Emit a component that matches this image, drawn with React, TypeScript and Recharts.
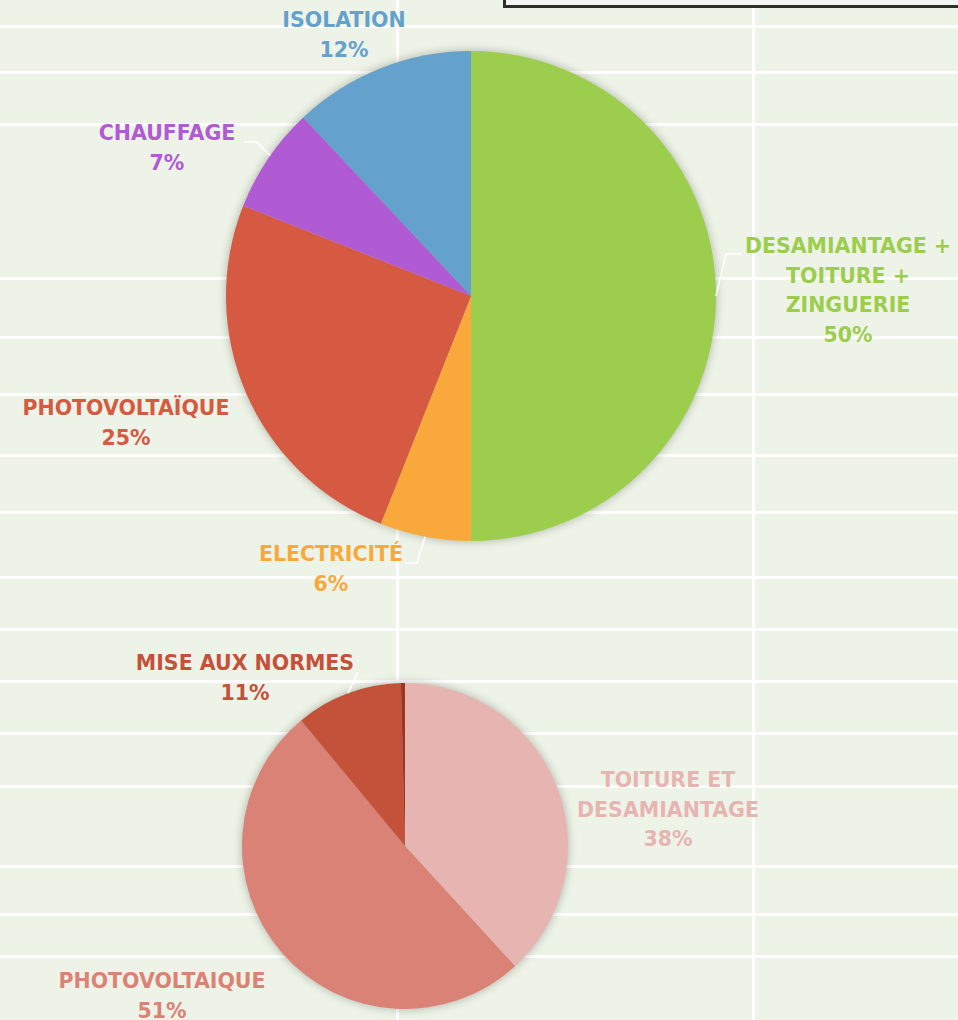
import { PieChart, Pie, Cell } from 'recharts'

// Répartition des travaux (camembert du haut)
const topCategories = ['DESAMIANTAGE + TOITURE + ZINGUERIE', 'ELECTRICITÉ', 'PHOTOVOLTAÏQUE', 'CHAUFFAGE', 'ISOLATION']
const topValues = [50, 6, 25, 7, 12]
const topLabelLines = [['DESAMIANTAGE +', 'TOITURE +', 'ZINGUERIE'], ['ELECTRICITÉ'], ['PHOTOVOLTAÏQUE'], ['CHAUFFAGE'], ['ISOLATION']]
const topColors = ['#9ccd4c', '#f9a93b', '#d55a41', '#b05ad3', '#64a1cc']

// Camembert du bas
const bottomCategories = ['TOITURE ET DESAMIANTAGE', 'PHOTOVOLTAIQUE', 'MISE AUX NORMES', 'AUTRE']
const bottomValues = [38.2, 50.8, 10.6, 0.4]
const bottomLabelLines = [['TOITURE ET', 'DESAMIANTAGE'], ['PHOTOVOLTAIQUE'], ['MISE AUX NORMES'], []]
const bottomColors = ['#e7b5b1', '#db8276', '#c4523a', '#9c3526']

const topData = topCategories.map((name, i) => ({ name, value: topValues[i] }))
const bottomData = bottomCategories.map((name, i) => ({ name, value: bottomValues[i] }))

// fond type feuille Excel
const rowLines = [26, 72, 124, 278, 337, 394, 455, 512, 577, 629, 681, 733, 786, 866, 914, 956]
const colLines = [397, 753]

const RAD = Math.PI / 180
const LINE_H = 29.5

type Offset = { dx: number; dy: number }
type Leader = { angle?: number; pts: [number, number][] } | null

const topOffsets: Offset[] = [
  { dx: 377, dy: -50 },
  { dx: -140, dy: 258 },
  { dx: -345, dy: 112 },
  { dx: -304, dy: -163 },
  { dx: -127, dy: -276 },
]
const topLeaders: Leader[] = [
  { pts: [[255, -42], [271, -42]] },
  { pts: [[-54, 267], [-66, 267]] },
  null,
  { angle: 145, pts: [[-214, -154], [-227, -154]] },
  null,
]
const bottomOffsets: Offset[] = [
  { dx: 263, dy: -66 },
  { dx: -243, dy: 135 },
  { dx: -160, dy: -183 },
  { dx: 0, dy: 0 },
]
const bottomLeaders: Leader[] = [null, null, { pts: [[-47, -174]] }, null]

function makeLabel(lines: string[][], colors: string[], offsets: Offset[], leaders: Leader[]) {
  return (props: any) => {
    const { cx, cy, midAngle, outerRadius, index, percent } = props
    const words = lines[index]
    if (!words || words.length === 0) return null
    const x = cx + offsets[index].dx
    const y = cy + offsets[index].dy
    const all = [...words, `${Math.round(percent * 100)}%`]
    const leader = leaders[index]
    let poly = null
    if (leader) {
      const a = leader.angle ?? midAngle
      const sx = cx + outerRadius * Math.cos(-a * RAD)
      const sy = cy + outerRadius * Math.sin(-a * RAD)
      const pts = [[sx, sy], ...leader.pts.map(([px, py]) => [cx + px, cy + py])]
      poly = <polyline points={pts.map((p) => p.join(',')).join(' ')} fill="none" stroke="#ffffff" strokeWidth={1.5} />
    }
    return (
      <g key={`lbl-${index}`}>
        {poly}
        <text
          x={x}
          y={y}
          textAnchor="middle"
          dominantBaseline="central"
          fill={colors[index]}
          style={{ fontFamily: '"DejaVu Sans", sans-serif', fontWeight: 700, fontSize: 20.5 }}
        >
          {all.map((w, i) => (
            <tspan key={i} x={x} dy={i === 0 ? 0 : LINE_H}>
              {w}
            </tspan>
          ))}
        </text>
      </g>
    )
  }
}

export default function App() {
  return (
    <div style={{ position: 'absolute', left: 0, top: 0, width: 958, height: 1020, overflow: 'hidden', background: '#eef3e7' }}>
      <style>{`.recharts-pie:not(:has(text)) { filter: drop-shadow(0 0 5px rgba(0,0,0,0.28)); }`}</style>
      {rowLines.map((y) => (
        <div key={`r${y}`} style={{ position: 'absolute', left: 0, top: y - 1.5, width: 958, height: 3, background: '#ffffff' }} />
      ))}
      {colLines.map((x) => (
        <div key={`c${x}`} style={{ position: 'absolute', left: x - 1.5, top: 0, width: 3, height: 1020, background: '#ffffff' }} />
      ))}
      <div
        style={{
          position: 'absolute',
          left: 503,
          top: -10,
          width: 470,
          height: 12,
          border: '3px solid #2e2f2a',
          background: '#f4f4f2',
        }}
      />
      <div style={{ position: 'absolute', left: 0, top: 0 }}>
        <PieChart width={958} height={1020} margin={{ top: 0, right: 0, bottom: 0, left: 0 }}>
          <Pie
            data={topData}
            dataKey="value"
            nameKey="name"
            cx={471}
            cy={296}
            outerRadius={245}
            startAngle={90}
            endAngle={-270}
            stroke="none"
            isAnimationActive={false}
          >
            {topData.map((d, i) => (
              <Cell key={d.name} fill={topColors[i]} />
            ))}
          </Pie>
          <Pie
            data={topData}
            dataKey="value"
            nameKey="name"
            cx={471}
            cy={296}
            outerRadius={245}
            startAngle={90}
            endAngle={-270}
            fill="none"
            stroke="none"
            labelLine={false}
            label={makeLabel(topLabelLines, topColors, topOffsets, topLeaders)}
            isAnimationActive={false}
          />
          <Pie
            data={bottomData}
            dataKey="value"
            nameKey="name"
            cx={405}
            cy={846}
            outerRadius={163}
            startAngle={90}
            endAngle={-270}
            stroke="none"
            isAnimationActive={false}
          >
            {bottomData.map((d, i) => (
              <Cell key={d.name} fill={bottomColors[i]} />
            ))}
          </Pie>
          <Pie
            data={bottomData}
            dataKey="value"
            nameKey="name"
            cx={405}
            cy={846}
            outerRadius={163}
            startAngle={90}
            endAngle={-270}
            fill="none"
            stroke="none"
            labelLine={false}
            label={makeLabel(bottomLabelLines, bottomColors, bottomOffsets, bottomLeaders)}
            isAnimationActive={false}
          />
        </PieChart>
      </div>
    </div>
  )
}
